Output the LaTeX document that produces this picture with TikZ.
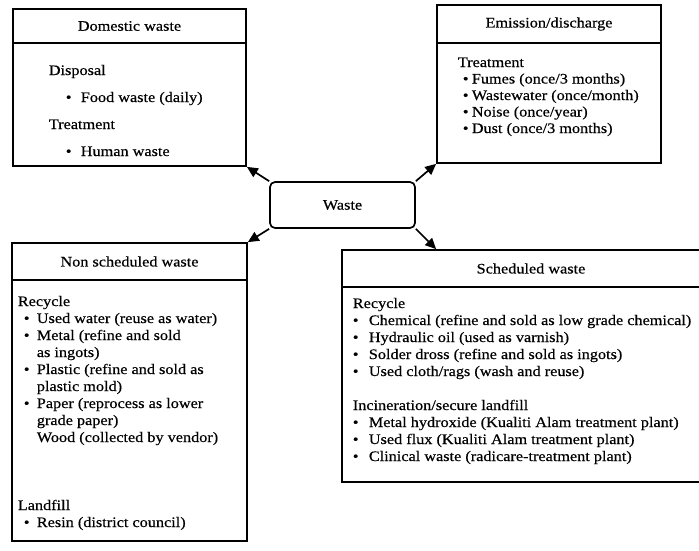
\documentclass[tikz,border=0pt]{standalone}
\usepackage{fontspec}
\setmainfont{Liberation Serif}[FakeStretch=1.12,FakeBold=0.5]
\usetikzlibrary{%
  arrows.meta,%
  positioning%
}
\newcommand{\bul}[2]{\makebox[#2][l]{\hspace*{#1}\textbullet}}

\begin{document}
\begin{tikzpicture}
[x=1pt, y=-1pt, line width=1.7pt, >={Triangle[length=11pt,width=10pt]},
every node/.style={font=\fontsize{14.5}{17}\selectfont},
wastebox/.style={rectangle, draw, inner sep=0pt},
headbox/.style={rectangle, draw, inner sep=0pt, anchor=north},
listtext/.style={align=left, inner sep=0pt, anchor=base west}]

\useasboundingbox (0,0) rectangle (699,550);

\node[wastebox, rounded corners=5pt, minimum width=145pt, minimum height=46pt] (waste) at (342.5,205) {Waste};

% domestic (text placed by its last line)
\node[wastebox, minimum width=233pt, minimum height=157pt] (dom) at (129.5,87.5) {};
\node[headbox, minimum width=233pt, minimum height=34pt] (domhead) at (dom.north) {Domestic waste};
\node[listtext] (domtext) at (48,156) {Disposal\\[10pt]
  \bul{17pt}{32pt}Food waste (daily)\\[10pt]
  Treatment\\[10pt]
  \bul{17pt}{32pt}Human waste};

% emission
\node[wastebox, minimum width=224pt, minimum height=158pt] (emi) at (549,84) {};
\node[headbox, minimum width=224pt, minimum height=38pt] (emihead) at (emi.north) {Emission/discharge};
\node[listtext, font=\fontsize{14.5}{16.5}\selectfont] (emitext) at (457,133) {Treatment\\
  \bul{5pt}{14pt}Fumes (once/3 months)\\
  \bul{5pt}{14pt}Wastewater (once/month)\\
  \bul{5pt}{14pt}Noise (once/year)\\
  \bul{5pt}{14pt}Dust (once/3 months)};

% non scheduled
\node[wastebox, minimum width=235pt, minimum height=298pt] (nonsch) at (129.5,392) {};
\node[headbox, minimum width=235pt, minimum height=37pt] (nonschhead) at (nonsch.north) {Non scheduled waste};
\node[listtext] (nonschtext) at (17,527) {Recycle\\
  \bul{6pt}{19pt}Used water (reuse as water)\\
  \bul{6pt}{19pt}Metal (refine and sold\\
  \hspace*{19pt}as ingots)\\
  \bul{6pt}{19pt}Plastic (refine and sold as\\
  \hspace*{19pt}plastic mold)\\
  \bul{6pt}{19pt}Paper (reprocess as lower\\
  \hspace*{19pt}grade paper)\\
  \hspace*{19pt}Wood (collected by vendor)\\[51pt]
  Landfill\\
  \bul{6pt}{19pt}Resin (district council)};

% scheduled
\node[wastebox, minimum width=378pt, minimum height=232pt] (sched) at (531,366) {};
\node[headbox, minimum width=378pt, minimum height=37pt] (schedhead) at (sched.north) {Scheduled waste};
\node[listtext] (schedtext) at (352,461) {Recycle\\
  \bul{0pt}{16pt}Chemical (refine and sold as low grade chemical)\\
  \bul{0pt}{16pt}Hydraulic oil (used as varnish)\\
  \bul{0pt}{16pt}Solder dross (refine and sold as ingots)\\
  \bul{0pt}{16pt}Used cloth/rags (wash and reuse)\\[17pt]
  Incineration/secure landfill\\
  \bul{0pt}{16pt}Metal hydroxide (Kualiti Alam treatment plant)\\
  \bul{0pt}{16pt}Used flux (Kualiti Alam treatment plant)\\
  \bul{0pt}{16pt}Clinical waste (radicare-treatment plant)};
\coordinate (schedin) at ([xshift=95pt]sched.north west);

% arrows
\draw[->] (waste.north west) -- (dom.south east);
\draw[->] (waste.north east) -- (emi.south west);
\draw[->] (waste.south west) -- (nonsch.north east);
\draw[->] (waste.south east) -- (schedin);
\end{tikzpicture}
\end{document}
